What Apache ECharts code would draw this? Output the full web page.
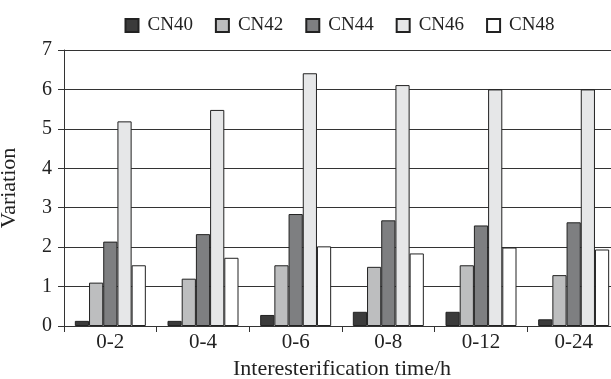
<!DOCTYPE html>
<html>
<head>
<meta charset="utf-8">
<script src="https://cdn.jsdelivr.net/npm/echarts@6/dist/echarts.min.js"></script>
<style>html,body{margin:0;padding:0;background:#fff;}#c{width:611px;height:379px;}</style>
</head>
<body>
<div id="c"></div>
<script>
const categories = ['0-2', '0-4', '0-6', '0-8', '0-12', '0-24'];
const seriesNames = ['CN40', 'CN42', 'CN44', 'CN46', 'CN48'];
const cn40 = [0.13, 0.13, 0.28, 0.36, 0.36, 0.17];
const cn42 = [1.10, 1.20, 1.54, 1.50, 1.54, 1.29];
const cn44 = [2.14, 2.33, 2.84, 2.68, 2.55, 2.63];
const cn46 = [5.19, 5.48, 6.41, 6.11, 6.00, 6.00];
const cn48 = [1.54, 1.73, 2.02, 1.84, 1.99, 1.94];
const yTicks = [0, 1, 2, 3, 4, 5, 6, 7];

const values = [cn40, cn42, cn44, cn46, cn48];
const colors = ['#3b3b3b', '#bdbebf', '#7e7f81', '#e6e7e8', '#ffffff'];
const font = '"Liberation Serif", "Times New Roman", serif';

const chart = echarts.init(document.getElementById('c'), null, {renderer: 'canvas'});
chart.setOption({
  animation: false,
  backgroundColor: '#ffffff',
  textStyle: {fontFamily: font},
  legend: {
    top: 11,
    left: 119.5,
    itemWidth: 13,
    itemHeight: 13,
    itemGap: 22,
    icon: 'rect',
    textStyle: {fontFamily: font, fontSize: 19, color: '#222', padding: [0, 0, 0, 4]},
    data: seriesNames
  },
  grid: {left: 64, top: 50, width: 556, height: 276, containLabel: false, outerBoundsMode: 'none'},
  xAxis: {
    type: 'category',
    data: categories,
    name: 'Interesterification time/h',
    nameLocation: 'middle',
    nameGap: 32,
    nameTextStyle: {fontFamily: font, fontSize: 22, color: '#222'},
    axisLine: {show: true, lineStyle: {color: '#333', width: 1}},
    axisTick: {show: true, alignWithLabel: false, length: 6, lineStyle: {color: '#333'}},
    axisLabel: {fontFamily: font, fontSize: 21, color: '#222', margin: 6},
    splitLine: {show: false}
  },
  yAxis: {
    type: 'value',
    min: yTicks[0],
    max: yTicks[yTicks.length - 1],
    interval: 1,
    name: 'Variation',
    nameLocation: 'middle',
    nameGap: 44,
    nameTextStyle: {fontFamily: font, fontSize: 22, color: '#222', padding: [18, 0, 0, 0]},
    axisLine: {show: true, lineStyle: {color: '#333', width: 1}},
    axisTick: {show: true, length: 6, lineStyle: {color: '#333'}},
    axisLabel: {fontFamily: font, fontSize: 20, color: '#222', margin: 12},
    splitLine: {show: true, lineStyle: {color: '#333', width: 1}}
  },
  series: seriesNames.map((n, i) => ({
    name: n,
    type: 'bar',
    data: values[i],
    barWidth: 14.2,
    barGap: '0%',
    itemStyle: {color: colors[i], borderColor: '#222', borderWidth: 1}
  }))
});
</script>
</body>
</html>
